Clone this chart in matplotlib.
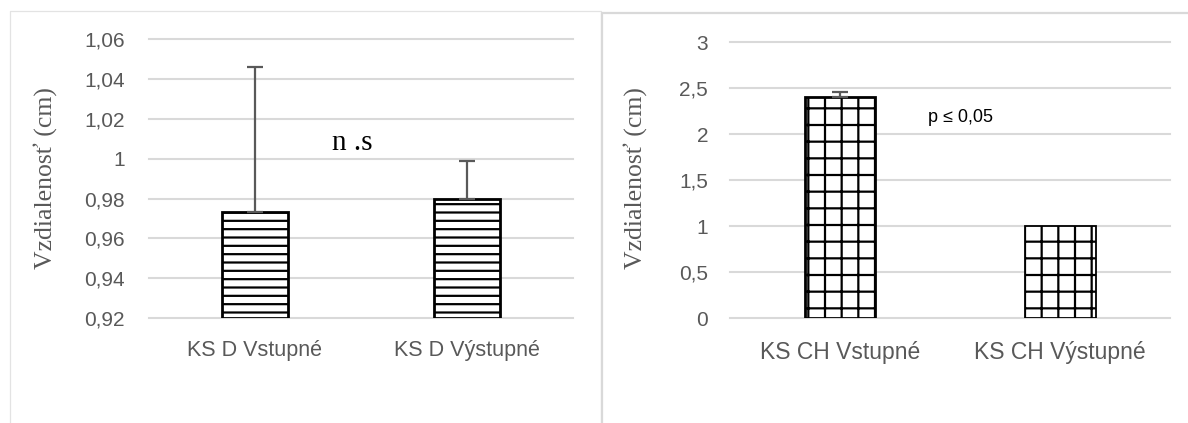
import matplotlib
matplotlib.use("Agg")
import matplotlib.pyplot as plt
from matplotlib.lines import Line2D
import numpy as np

# ---- data ----
left_categories = ["KS D Vstupné", "KS D Výstupné"]
left_values = [0.973, 0.980]
left_errors = [0.073, 0.019]
left_ticks = [0.92, 0.94, 0.96, 0.98, 1.00, 1.02, 1.04, 1.06]
left_ticklabels = ["0,92", "0,94", "0,96", "0,98", "1", "1,02", "1,04", "1,06"]

right_categories = ["KS CH Vstupné", "KS CH Výstupné"]
right_values = [2.41, 1.00]
right_errors = [0.05, 0.0]
right_ticks = [0, 0.5, 1, 1.5, 2, 2.5, 3]
right_ticklabels = ["0", "0,5", "1", "1,5", "2", "2,5", "3"]

ylabel_text = "Vzdialenosť (cm)"
left_note = "n .s"
right_note = "p ≤ 0,05"

GRAY = "#595959"
GRID = "#d9d9d9"
W, H = 1188, 423

plt.rcParams["hatch.linewidth"] = 1.6
plt.rcParams["font.family"] = ["Liberation Sans", "DejaVu Sans"]

fig = plt.figure(figsize=(W / 100, H / 100), dpi=100)

# panel frames
fig.add_artist(Line2D([9.5 / W, 9.5 / W, 600.5 / W, 600.5 / W],
                      [0, 1 - 10.7 / H, 1 - 10.7 / H, 0], color="#e3e3e3", lw=0.9))
fig.add_artist(Line2D([602 / W, 602 / W, 1187 / W],
                      [0, 1 - 13 / H, 1 - 13 / H], color="#d9d9d9", lw=1.6))


def style_axes(ax, ticks, ticklabels, pad, xsize):
    ax.set_yticks(ticks)
    ax.set_yticklabels(ticklabels)
    for s in ax.spines.values():
        s.set_visible(False)
    ax.tick_params(axis="y", length=0, pad=pad, labelsize=15, labelcolor=GRAY)
    ax.tick_params(axis="x", length=0, pad=16, labelsize=xsize, labelcolor=GRAY)
    ax.yaxis.grid(True, color=GRID, lw=1.5)
    ax.set_axisbelow(True)
    for gl in ax.get_ygridlines():
        gl.set_clip_on(False)


# ---- left panel ----
axL = fig.add_axes([148.5 / W, (H - 318) / H, 424.5 / W, (318 - 39.3) / H])
xL = np.arange(len(left_categories))
yminL = left_ticks[0]
axL.bar(xL, np.array(left_values) - yminL, bottom=yminL, width=0.31,
        color="white", edgecolor="black", linewidth=2.0, hatch="--", zorder=2)
axL.errorbar(xL, left_values, yerr=[np.zeros(len(left_errors)), left_errors],
             fmt="none", ecolor=GRAY, elinewidth=1.6, capsize=5.5, capthick=1.6, zorder=3)
axL.set_xlim(-0.5, 1.5)
axL.set_ylim(left_ticks[0], left_ticks[-1])
axL.set_xticks(xL)
axL.set_xticklabels(left_categories)
style_axes(axL, left_ticks, left_ticklabels, 17, 15.5)
axL.set_ylabel(ylabel_text, family=["Liberation Serif"], fontsize=18.5, color=GRAY)
axL.yaxis.set_label_coords(-0.2155, 0.502)
axL.text(0.479, 0.603, left_note, transform=axL.transAxes, ha="center", va="baseline",
         family=["Liberation Serif"], fontsize=21, color="black")

# ---- right panel ----
axR = fig.add_axes([730.3 / W, (H - 318.3) / H, 440 / W, (318.3 - 42.3) / H])
xR = np.arange(len(right_categories))
barsR = axR.bar(xR, right_values, width=0.32, color="white", edgecolor="black",
                linewidth=2.0, hatch="+", zorder=2)
barsR[1].set_linewidth(1.3)
axR.errorbar(xR[:1], right_values[:1], yerr=[[0], right_errors[:1]],
             fmt="none", ecolor=GRAY, elinewidth=1.6, capsize=5.5, capthick=1.6, zorder=3)
axR.set_xlim(-0.5, 1.5)
axR.set_ylim(right_ticks[0], right_ticks[-1])
axR.set_xticks(xR)
axR.set_xticklabels(right_categories)
style_axes(axR, right_ticks, right_ticklabels, 16, 16.5)
axR.set_ylabel(ylabel_text, family=["Liberation Serif"], fontsize=18.5, color=GRAY)
axR.yaxis.set_label_coords(-0.189, 0.508)
axR.text(0.524, 0.713, right_note, transform=axR.transAxes, ha="center", va="baseline",
         fontsize=13, color="black")

fig.savefig("out.png", dpi=100, facecolor="white")
